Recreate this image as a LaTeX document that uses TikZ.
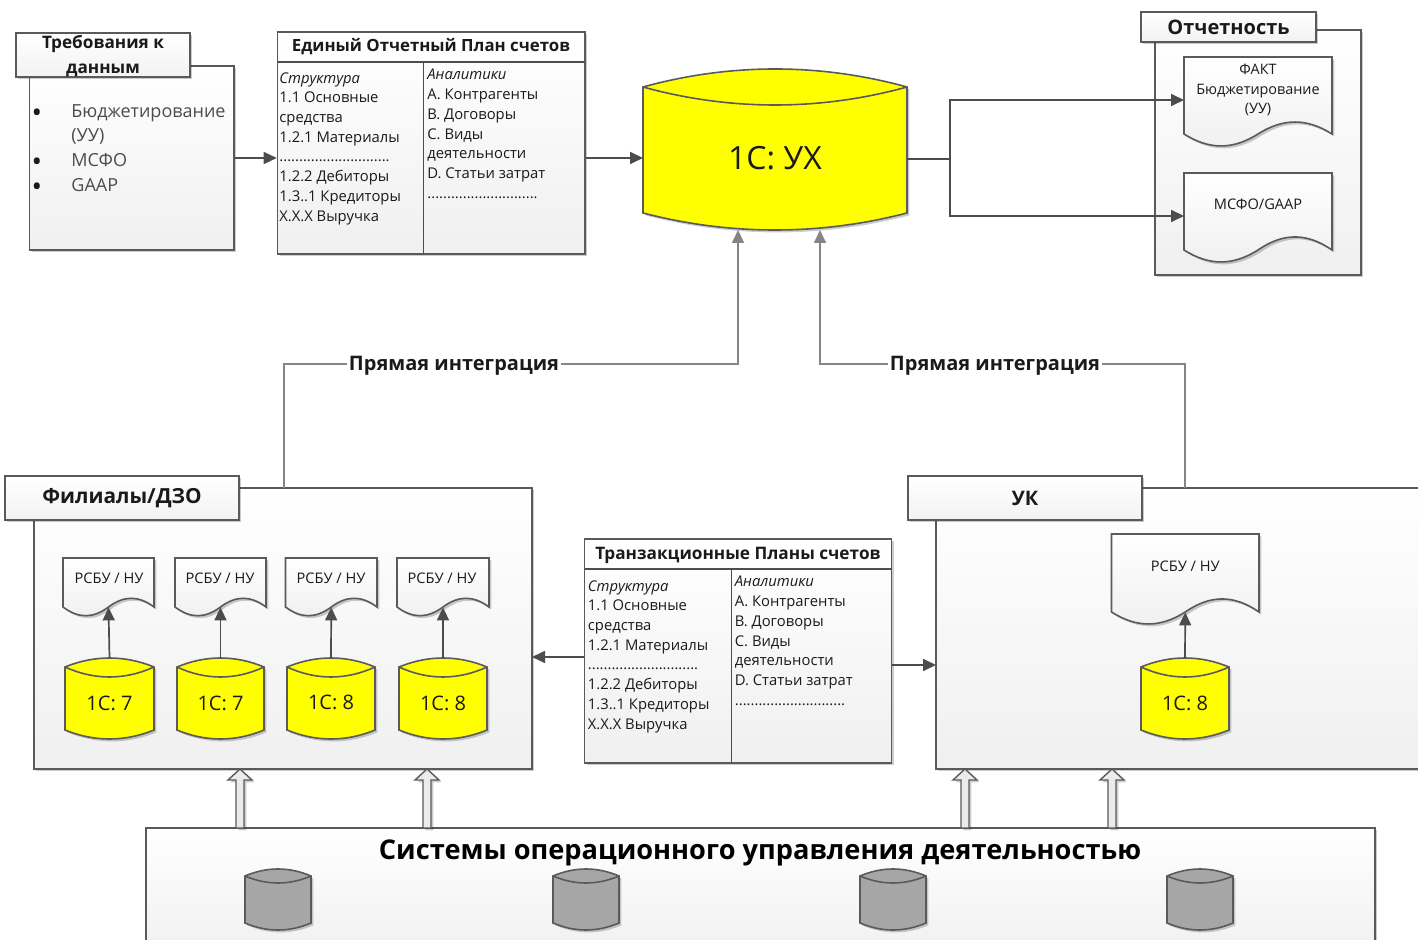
\documentclass[tikz,border=0pt]{standalone}
\usepackage{fontspec}
\setmainfont{Open Sans}
\usetikzlibrary{arrows.meta,fit,shadows,calc}
\definecolor{ln}{HTML}{5A5A5A}
\definecolor{tx}{HTML}{1A1A1A}
\definecolor{gl}{HTML}{858585}
\definecolor{ye}{HTML}{FFFF00}
\definecolor{gc}{HTML}{A6A6A6}
\tikzset{
  softshadow/.style={drop shadow={shadow xshift=1.2pt,shadow yshift=-1.2pt,opacity=.2,fill=black}},
  panel/.style={draw=ln,line width=.8pt,top color=white,bottom color=black!6,inner sep=0pt,softshadow,text=tx},
  titlebox/.style={panel,bottom color=black!5},
  plain/.style={inner sep=0pt,text=tx},
  cols/.style={anchor=north west,align=left,inner sep=0pt,text=tx,font=\fontsize{7.4}{9.85}\selectfont},
  flow/.style={draw=ln!85!black,line width=.85pt,-{Triangle[length=6.5pt,width=6pt]}},
  line/.style={draw=ln!85!black,line width=.85pt},
  grayflow/.style={draw=gl,line width=.85pt,-{Triangle[length=6.5pt,width=6pt]}},
  grayline/.style={draw=gl,line width=.85pt},
  hollow/.style={draw=ln,line width=.7pt,fill=black!8,softshadow},
}
% cylinder: name,x1,x2,top,corner,lens,botcorner,peak,fill
\newcommand{\cylinderbox}[9]{%
  \pgfmathsetmacro{\ctop}{#5+(#4-#5)/.75}%
  \pgfmathsetmacro{\clens}{#5+(#6-#5)/.75}%
  \pgfmathsetmacro{\cbot}{#7+(#8-#7)/.75}%
  \pgfmathsetmacro{\xa}{#2+(#3-#2)*.33}%
  \pgfmathsetmacro{\xb}{#2+(#3-#2)*.67}%
  \filldraw[draw=ln,line width=.8pt,fill=#9,softshadow]
    (#2,#5) .. controls (\xa,\ctop) and (\xb,\ctop) .. (#3,#5)
    -- (#3,#7) .. controls (\xb,\cbot) and (\xa,\cbot) .. (#2,#7) -- cycle;
  \draw[draw=ln,line width=.8pt]
    (#2,#5) .. controls (\xa,\clens) and (\xb,\clens) .. (#3,#5);
  \node[inner sep=0pt,fit={(#2,#4)(#3,#8)}] (#1) {};}
% document: name,x1,x2,top,ends,dip,peak
\newcommand{\docbox}[7]{%
  \pgfmathsetmacro{\ydip}{#5+(#6-#5)*1.45}%
  \pgfmathsetmacro{\ypk}{#5+(#7-#5)*1.45}%
  \pgfmathsetmacro{\xmid}{(#2+#3)/2}%
  \pgfmathsetmacro{\xa}{#2+(#3-#2)*.17}%
  \pgfmathsetmacro{\xb}{#2+(#3-#2)*.33}%
  \pgfmathsetmacro{\xc}{#2+(#3-#2)*.67}%
  \pgfmathsetmacro{\xd}{#2+(#3-#2)*.83}%
  \filldraw[draw=ln,line width=.8pt,top color=white,bottom color=black!6,softshadow]
    (#2,#4) -- (#3,#4) -- (#3,#5)
    .. controls (\xd,\ypk) and (\xc,\ypk) .. (\xmid,#5)
    .. controls (\xb,\ydip) and (\xa,\ydip) .. (#2,#5) -- cycle;
  \node[inner sep=0pt,fit={(#2,#4)(#3,#5)}] (#1) {};}
\newcommand{\upshaft}[1]{%
  \filldraw[hollow] (#1-4,828) -- (#1-4,780) -- (#1-12,780) -- (#1,769) -- (#1+12,780) -- (#1+4,780) -- (#1+4,828) -- cycle;}
\newcommand{\columntext}[3]{\node[cols] (#1) at (#2) {#3};}
\begin{document}
\begin{tikzpicture}[x=0.5pt,y=-0.5pt]
\clip (0,0) rectangle (1418,940);
\useasboundingbox (0,0) rectangle (1418,940);

% requirements
\node[panel,fit={(29.5,66)(234,250)}] (req) {};
\node[titlebox,fit={(16,33)(190,77)}] (reqt) {};
\node[inner sep=0pt,align=center,text=tx,font=\fontsize{8.6}{12.5}\selectfont\bfseries] at ($(reqt.center)+(0,1)$) {Требования к\\данным};
\node[plain,font=\fontsize{14}{14}\selectfont] (b1) at (37,116) {•};
\node[plain,font=\fontsize{14}{14}\selectfont] (b2) at (37,165) {•};
\node[plain,font=\fontsize{14}{14}\selectfont] (b3) at (37,190) {•};
\node[anchor=north west,align=left,inner sep=0pt,text=black!70,font=\fontsize{9}{12.3}\selectfont] (reqlist) at (71,104) {Бюджетирование\\(УУ)\\МСФО\\GAAP};

% unified chart
\node[panel,fit={(277.5,32)(585,254)}] (eop) {};
\draw[line] (277.5,62) -- (585,62);
\draw[line] (423.5,62) -- (423.5,254);
\node[inner sep=0pt,text=tx,font=\fontsize{8.4}{10}\selectfont\bfseries] (eopt) at (431,47) {Единый Отчетный План счетов};
\columntext{eopl}{279,72}{\textit{Структура}\\1.1 Основные\\средства\\1.2.1 Материалы\\............................\\1.2.2 Дебиторы\\1.3..1 Кредиторы\\X.X.X Выручка}
\columntext{eopr}{427,69}{\textit{Аналитики}\\A. Контрагенты\\B. Договоры\\C. Виды\\деятельности\\D. Статьи затрат\\............................}

% main cylinder
\cylinderbox{uh}{643}{907}{69}{87}{105}{213}{230}{ye}
\node[inner sep=0pt,text=tx,font=\fontsize{16}{16}\selectfont] (uht) at (775,158) {1С: УХ};

% reporting
\node[panel,fit={(1155,30)(1361,275)}] (rep) {};
\node[titlebox,fit={(1141,12)(1316,42)}] (rept) {};
\node[inner sep=0pt,text=tx,font=\fontsize{10}{10}\selectfont\bfseries] at (rept.center) {Отчетность};
\docbox{fact}{1184}{1332}{57}{134}{145}{123}
\node[inner sep=0pt,align=center,text=tx,font=\fontsize{7.2}{9.8}\selectfont] at (1258,90) {ФАКТ\\Бюджетирование\\(УУ)};
\docbox{ifrs}{1184}{1332}{173}{250}{261}{238}
\node[inner sep=0pt,text=tx,font=\fontsize{7.3}{8}\selectfont] at (1258,204) {МСФО/GAAP};

% branches
\node[panel,fit={(34,488)(532,769)}] (fil) {};
\node[titlebox,fit={(5,476)(239,520)}] (filt) {};
\node[inner sep=0pt,text=tx,font=\fontsize{10.4}{10}\selectfont\bfseries] at (122,498) {Филиалы/ДЗО};
\docbox{d1}{63}{154}{558}{607}{615}{599}
\docbox{d2}{175}{266}{558}{607}{615}{599}
\docbox{d3}{285.5}{377}{558}{607}{615}{599}
\docbox{d4}{397}{489}{558}{607}{615}{599}
\foreach \cx in {109,220,331,442}
  \node[inner sep=0pt,text=tx,font=\fontsize{7.3}{8}\selectfont] at (\cx,578) {РСБУ / НУ};
\cylinderbox{c1}{65}{154}{658}{667}{677}{730}{739}{ye}
\cylinderbox{c2}{177}{264}{658}{667}{677}{730}{739}{ye}
\cylinderbox{c3}{287}{375}{658}{667}{677}{730}{739}{ye}
\cylinderbox{c4}{399}{487}{658}{667}{677}{730}{739}{ye}
\node[inner sep=0pt,text=tx,font=\fontsize{10}{10}\selectfont] at (c1.center |- 0,703) {1С: 7};
\node[inner sep=0pt,text=tx,font=\fontsize{10}{10}\selectfont] at (c2.center |- 0,703) {1С: 7};
\node[inner sep=0pt,text=tx,font=\fontsize{10}{10}\selectfont] at (c3.center |- 0,702) {1С: 8};
\node[inner sep=0pt,text=tx,font=\fontsize{10}{10}\selectfont] at (c4.center |- 0,703) {1С: 8};
\draw[flow] (c1.north) -- (d1.south);
\draw[flow] (c2.north) -- (d2.south);
\draw[flow] (c3.north) -- (d3.south);
\draw[flow] (c4.north) -- (d4.south);

% UK
\node[panel,fit={(936,488)(1440,769)}] (uk) {};
\node[titlebox,fit={(908,476)(1142,520)}] (ukt) {};
\node[inner sep=0pt,text=tx,font=\fontsize{10}{10}\selectfont\bfseries] at (ukt.center) {УК};
\docbox{d5}{1111.5}{1259}{534}{612}{623}{600}
\node[inner sep=0pt,text=tx,font=\fontsize{7.3}{8}\selectfont] at (d5.center |- 0,566) {РСБУ / НУ};
\cylinderbox{c5}{1141}{1229}{658}{667}{677}{730}{739}{ye}
\node[inner sep=0pt,text=tx,font=\fontsize{10}{10}\selectfont] at (c5.center |- 0,703) {1С: 8};
\draw[flow] (c5.north) -- (d5.south);

% transaction charts
\node[panel,fit={(584.5,539)(891.5,763)}] (tr) {};
\draw[line] (584.5,569) -- (891.5,569);
\draw[line] (731.5,569) -- (731.5,763);
\node[inner sep=0pt,text=tx,font=\fontsize{8.6}{10}\selectfont\bfseries] (trt) at (738,555) {Транзакционные Планы счетов};
\columntext{trl}{587.5,580}{\textit{Структура}\\1.1 Основные\\средства\\1.2.1 Материалы\\............................\\1.2.2 Дебиторы\\1.3..1 Кредиторы\\X.X.X Выручка}
\columntext{trr}{734.5,576}{\textit{Аналитики}\\A. Контрагенты\\B. Договоры\\C. Виды\\деятельности\\D. Статьи затрат\\............................}

% operational systems
\node[panel,fit={(146,828)(1375,960)}] (ops) {};
\node[inner sep=0pt,text=black,font=\fontsize{13.6}{14}\selectfont\bfseries] (opst) at (760,853) {Системы операционного управления деятельностью};
\cylinderbox{g1}{245}{311}{869}{876}{883}{923}{930}{gc}
\cylinderbox{g2}{553}{619}{869}{876}{883}{923}{930}{gc}
\cylinderbox{g3}{860}{926}{869}{876}{883}{923}{930}{gc}
\cylinderbox{g4}{1167}{1233}{869}{876}{883}{923}{930}{gc}
\upshaft{240}
\upshaft{427}
\upshaft{965}
\upshaft{1112}

% connectors
\coordinate (mainin) at (643,158);
\coordinate (fork) at (950,159);
\coordinate (factin) at (1184,100);
\coordinate (ifrsin) at (1184,216);
\coordinate (trfil) at (532,657);
\coordinate (truk) at (936,665);
\coordinate (upl) at (738,230);
\coordinate (upr) at (820,230);
\coordinate (startl) at (284,488);
\coordinate (startr) at (1185,488);
\draw[flow] (req.east) -- (req.east -| eop.west);
\draw[flow] (eop.east |- mainin) -- (mainin);
\draw[line] (uh.east |- fork) -- (fork);
\draw[flow] (fork) |- (factin);
\draw[flow] (fork) |- (ifrsin);
\draw[flow] (tr.west |- trfil) -- (trfil);
\draw[flow] (tr.east |- truk) -- (truk);
\node[inner sep=0pt,text=tx,font=\fontsize{10}{10}\selectfont\bfseries] (lab1) at (454,366) {Прямая интеграция};
\node[inner sep=0pt,text=tx,font=\fontsize{10}{10}\selectfont\bfseries] (lab2) at (995,366) {Прямая интеграция};
\coordinate (lev) at (0,364);
\draw[grayline] (startl) |- ([xshift=-1pt]lab1.west |- lev);
\draw[grayflow] ([xshift=1pt]lab1.east |- lev) -| (upl);
\draw[grayline] (startr) |- ([xshift=1pt]lab2.east |- lev);
\draw[grayflow] ([xshift=-1pt]lab2.west |- lev) -| (upr);
\end{tikzpicture}
\end{document}
